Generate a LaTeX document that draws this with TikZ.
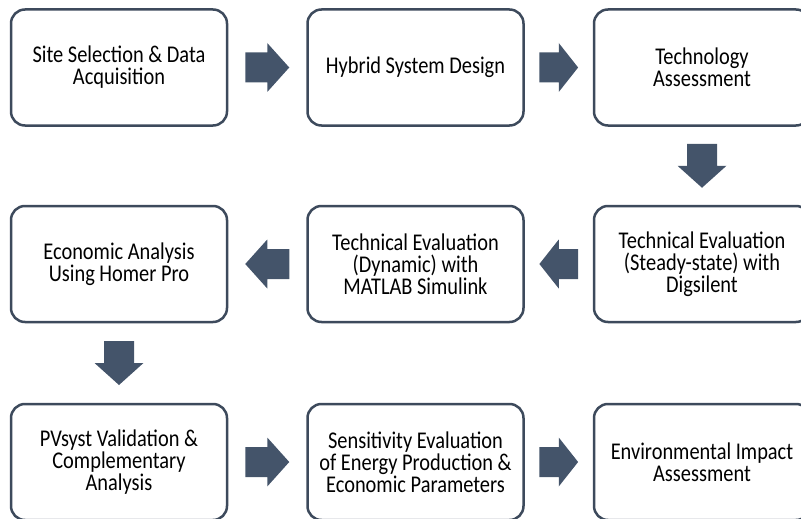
\documentclass[tikz,border=0pt]{standalone}
\usepackage{fontspec}
\setmainfont{Carlito}[FakeStretch=0.85]
\usetikzlibrary{calc}
\definecolor{slate}{HTML}{44546A}
\definecolor{edgegray}{HTML}{3D4A5C}

\begin{document}
\begin{tikzpicture}[x=1pt, y=-1pt,
  stage/.style={draw=edgegray, line width=2.5pt, rounded corners=14pt,
    minimum width=216pt, minimum height=116pt, inner sep=4pt,
    align=center, font=\fontsize{24}{22}\selectfont},
  blockarrow/.pic={\fill[slate] (-22,-15) -- (0,-15) -- (0,-24.5) -- (22,0)
    -- (0,24.5) -- (0,15) -- (-22,15) -- cycle;}]
  \useasboundingbox (0,0) rectangle (801,519);
  % first row
  \node[stage] (site)   at (119,67.5)  {Site Selection \& Data\\Acquisition};
  \node[stage] (hybrid) at (415.5,67.5) {Hybrid System Design};
  \node[stage] (tech)   at (702,67.5)  {Technology\\Assessment};
  % second row, read right to left
  \node[stage] (steady)  at (702,264)   {Technical Evaluation\\(Steady-state) with\\Digsilent};
  \node[stage] (dynamic) at (415.5,264) {Technical Evaluation\\(Dynamic) with\\MATLAB Simulink};
  \node[stage] (econ)    at (119,264)   {Economic Analysis\\Using Homer Pro};
  % third row
  \node[stage] (pvsyst) at (119,462)   {PVsyst Validation \&\\Complementary\\Analysis};
  \node[stage] (sens)   at (415.5,462) {Sensitivity Evaluation\\of Energy Production \&\\Economic Parameters};
  \node[stage] (env)    at (702,462)   {Environmental Impact\\Assessment};
  % block arrows between the stages
  \pic at ($(site.east)!0.5!(hybrid.west)$) {blockarrow};
  \pic[xscale=0.88] at ($(hybrid.east)!0.5!(tech.west)$) {blockarrow};
  \pic[rotate=-90] at ($(tech.south)!0.5!(steady.north)$) {blockarrow};
  \pic[rotate=180, xscale=0.88] at ($(steady.west)!0.5!(dynamic.east)$) {blockarrow};
  \pic[rotate=180] at ($(dynamic.west)!0.5!(econ.east)$) {blockarrow};
  \pic[rotate=-90] at ($(econ.south)!0.5!(pvsyst.north)$) {blockarrow};
  \pic at ($(pvsyst.east)!0.5!(sens.west)$) {blockarrow};
  \pic[xscale=0.88] at ($(sens.east)!0.5!(env.west)$) {blockarrow};
\end{tikzpicture}
\end{document}
